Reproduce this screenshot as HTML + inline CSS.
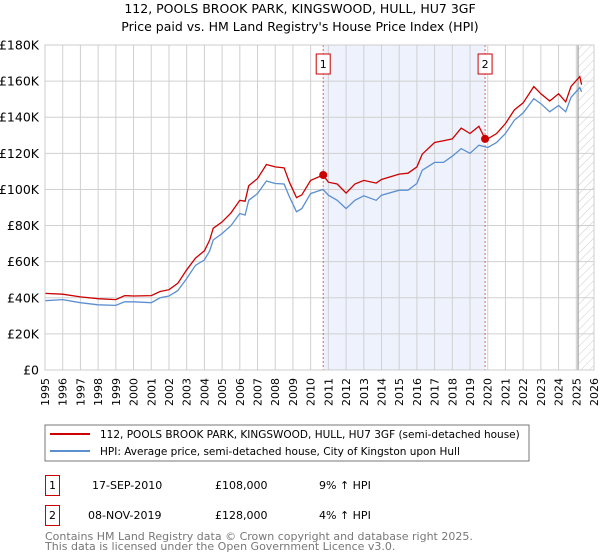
<!DOCTYPE html>
<html><head><meta charset="utf-8"><style>
body{margin:0;background:#fff;width:600px;height:560px;overflow:hidden;font-family:"DejaVu Sans","Liberation Sans",sans-serif;}
svg{display:block}
text{font-family:"DejaVu Sans","Liberation Sans",sans-serif;}
</style></head><body>
<svg id="chart" width="600" height="560" viewBox="0 0 600 560">
<defs><pattern id="hatch" width="6" height="6" patternUnits="userSpaceOnUse" patternTransform="rotate(45)"><line x1="0" y1="0" x2="0" y2="6" stroke="#ccc" stroke-width="1"/></pattern></defs>
<text x="300" y="13" text-anchor="middle" font-size="12.5">112, POOLS BROOK PARK, KINGSWOOD, HULL, HU7 3GF</text>
<text x="300" y="31" text-anchor="middle" font-size="12.5">Price paid vs. HM Land Registry's House Price Index (HPI)</text>
<g id="grid"></g><g id="series"></g><g id="axes"></g>
<rect x="45" y="425" width="484" height="36" fill="#fff" stroke="#777"/>
<line x1="50" y1="434" x2="90" y2="434" stroke="#cc0000" stroke-width="2"/>
<text x="100" y="438" font-size="10.5">112, POOLS BROOK PARK, KINGSWOOD, HULL, HU7 3GF (semi-detached house)</text>
<line x1="50" y1="451" x2="90" y2="451" stroke="#5b8fd0" stroke-width="2"/>
<text x="100" y="455" font-size="10.5">HPI: Average price, semi-detached house, City of Kingston upon Hull</text>
<g>
<rect x="45.5" y="475.5" width="14" height="20" fill="#fff" stroke="#cc0000"/>
<text x="52.5" y="489" font-size="11" text-anchor="middle">1</text>
<text x="92" y="489" font-size="11">17-SEP-2010</text>
<text x="215" y="489" font-size="11">£108,000</text>
<text x="319" y="489" font-size="11">9% ↑ HPI</text></g>
<g>
<rect x="45.5" y="505.5" width="14" height="20" fill="#fff" stroke="#cc0000"/>
<text x="52.5" y="519" font-size="11" text-anchor="middle">2</text>
<text x="88" y="519" font-size="11">08-NOV-2019</text>
<text x="215" y="519" font-size="11">£128,000</text>
<text x="319" y="519" font-size="11">4% ↑ HPI</text></g>
<text x="45" y="540" font-size="11" fill="#777">Contains HM Land Registry data © Crown copyright and database right 2025.</text>
<text x="45" y="550" font-size="11" fill="#777">This data is licensed under the Open Government Licence v3.0.</text>
</svg>
<script>
const hpiYears=[1995,1996,1997,1998,1999,1999.5,2000,2001,2001.5,2002,2002.5,2003,2003.5,2004,2004.3,2004.5,2005,2005.5,2006,2006.3,2006.5,2007,2007.5,2008,2008.5,2008.8,2009.2,2009.5,2010,2010.7,2011,2011.5,2012,2012.5,2013,2013.7,2014,2015,2015.5,2016,2016.3,2017,2017.5,2018,2018.5,2019,2019.5,2019.85,2020,2020.5,2021,2021.5,2022,2022.6,2023,2023.5,2024,2024.4,2024.7,2025.2,2025.3];
const hpiValues=[38.4,39,37.3,36.1,35.8,37.8,37.8,37.3,40,41,44,50.7,58,61,66,72,75.6,80,86.7,85.8,94,97.7,104.7,103.3,103,96,87.6,89.4,97.7,100,96.8,94,89.4,94,96.5,94,96.8,99.6,99.6,103.3,110.6,115,115,118.4,122.6,120,124.5,123.6,123.2,126,131,138.3,142.4,150.3,147.5,143,146.5,143,151,156.4,154];
const priceValues=[42.4,42,40.5,39.5,39,41.2,41,41.2,43.5,44.5,48,55.5,62,66,72,78.5,82,87,94,93.5,102,106,113.8,112.5,112,104,95.5,97,105,108,104,103,98,103,105,103.5,105.5,108.5,109,112.5,119.5,126,127,128,134,131,135,128,128,131,136.5,144,148,157,153,149,153,148.5,157,162.5,158];
const saleYears=[2010.71,2019.85];
const saleValues=[108,128];
const saleLabels=["1","2"];
const yTicks=[0,20,40,60,80,100,120,140,160,180];
const xTicks=[];for(let y=1995;y<=2026;y++)xTicks.push(y);

const X0=45,X1=594,Y0=370,Y1=45;
const xs=y=>X0+(y-1995)/(2026-1995)*(X1-X0);
const ys=v=>Y0-v/180*(Y0-Y1);
const NS="http://www.w3.org/2000/svg";
function mk(tag,attrs,parent){const e=document.createElementNS(NS,tag);for(const k in attrs)e.setAttribute(k,attrs[k]);parent.appendChild(e);return e;}
const grid=document.getElementById('grid'),series=document.getElementById('series'),axes=document.getElementById('axes');

const band=mk('rect',{x:xs(saleYears[0]),y:Y1,width:xs(saleYears[1])-xs(saleYears[0]),height:Y0-Y1,fill:'#eef2fc'},grid);


const hat=mk('rect',{x:xs(2025.1),y:Y1,width:X1-xs(2025.1),height:Y0-Y1,fill:'url(#hatch)'},grid);



xTicks.forEach(t=>{
  const l=mk('line',{x1:xs(t),x2:xs(t),y1:Y1,y2:Y0,stroke:'#d0d0d0','stroke-width':1},grid);
  
  
  const tx=mk('text',{x:0,y:0,'font-size':11,'text-anchor':'end',transform:`translate(${xs(t)+4},378) rotate(-90)`},axes);
  tx.textContent=t;
  
  
});
yTicks.forEach(t=>{
  const l=mk('line',{x1:X0,x2:X1,y1:ys(t),y2:ys(t),stroke:'#d0d0d0','stroke-width':1},grid);
  
  
  const tx=mk('text',{x:39,y:ys(t)+4.5,'font-size':12.5,'text-anchor':'end'},axes);
  tx.textContent=t===0?'£0':'£'+t+'K';
  
  
});
const nowLine=mk('line',{x1:xs(2025.1),x2:xs(2025.1),y1:Y1,y2:Y0,stroke:'#999','stroke-width':1.2},grid);



saleYears.forEach((s,i)=>{
  const l=mk('line',{x1:xs(s),x2:xs(s),y1:Y1,y2:Y0,stroke:'#e06060','stroke-width':1,'stroke-dasharray':'2,2'},grid);
  
  
});

function pathFrom(xv,yv){return xv.map((x,i)=>(i?'L':'M')+xs(x).toFixed(1)+','+ys(yv[i]).toFixed(1)).join('');}
const hp=mk('path',{d:pathFrom(hpiYears,hpiValues),fill:'none',stroke:'#5b8fd0','stroke-width':1.3},series);


const pp=mk('path',{d:pathFrom(hpiYears,priceValues),fill:'none',stroke:'#cc0000','stroke-width':1.3},series);



saleYears.forEach((s,i)=>{
  const c=mk('circle',{cx:xs(s),cy:ys(saleValues[i]),r:4,fill:'#cc0000'},series);
  
  
  const b=mk('rect',{x:xs(s)-7,y:54,width:14,height:20,fill:'#fff',stroke:'#cc0000'},series);
  
  
  const t=mk('text',{x:xs(s),y:68,'font-size':11,'text-anchor':'middle'},series);
  t.textContent=saleLabels[i];
  
  
});
const frame=mk('rect',{x:X0,y:Y1,width:X1-X0,height:Y0-Y1,fill:'none',stroke:'#ccc'},axes);


</script>
</body></html>
